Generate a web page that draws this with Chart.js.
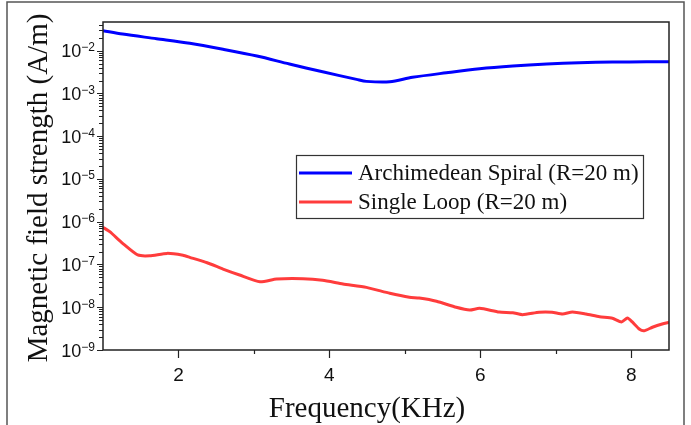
<!DOCTYPE html>
<html>
<head>
<meta charset="utf-8">
<script src="https://cdn.jsdelivr.net/npm/chart.js@4.4.1/dist/chart.umd.min.js"></script>
<style>
  html, body { margin: 0; padding: 0; background: #fff; }
</style>
</head>
<body>
<canvas id="chart" width="691" height="425"></canvas>
<script>
// data
const spiralLabel = "Archimedean Spiral (R=20 m)";
const spiralFreq = [1.00, 1.26, 1.71, 2.15, 2.59, 3.04, 3.47, 3.91, 4.36, 4.49, 4.80, 5.10, 5.55, 5.99, 6.43, 6.88, 7.31, 7.75, 8.20, 8.50];
const spiralH = [0.0293, 0.0245, 0.0191, 0.0149, 0.0108, 0.00752, 0.00489, 0.00322, 0.00214, 0.00192, 0.00188, 0.00239, 0.00305, 0.00379, 0.00439, 0.00489, 0.00524, 0.00543, 0.00552, 0.00552];

const loopLabel = "Single Loop (R=20 m)";
const loopFreq = [1.00, 1.09, 1.26, 1.46, 1.62, 1.85, 2.06, 2.15, 2.38, 2.59, 2.81, 3.08, 3.30, 3.65, 3.91, 4.18, 4.49, 4.80, 5.06, 5.19, 5.42, 5.68, 5.86, 5.99, 6.25, 6.43, 6.56, 6.78, 6.95, 7.09, 7.22, 7.40, 7.58, 7.75, 7.87, 7.95, 8.01, 8.11, 8.17, 8.28, 8.41, 8.50];
const loopH = [7.41e-7, 5.85e-7, 3.13e-7, 1.67e-7, 1.60e-7, 1.82e-7, 1.64e-7, 1.47e-7, 1.10e-7, 7.83e-8, 5.68e-8, 3.95e-8, 4.57e-8, 4.65e-8, 4.27e-8, 3.50e-8, 2.92e-8, 2.12e-8, 1.71e-8, 1.64e-8, 1.38e-8, 9.98e-9, 8.61e-9, 9.44e-9, 7.74e-9, 7.45e-9, 6.70e-9, 7.62e-9, 7.62e-9, 6.95e-9, 7.74e-9, 6.95e-9, 6.01e-9, 5.51e-9, 4.52e-9, 5.60e-9, 4.59e-9, 3.05e-9, 2.82e-9, 3.40e-9, 4.06e-9, 4.45e-9];

const xTicks = [2, 4, 6, 8];
const xMinorTicks = [3, 5, 7];
const yTicks = [1e-9, 1e-8, 1e-7, 1e-6, 1e-5, 1e-4, 1e-3, 1e-2];
const xTitle = "Frequency(KHz)";
const yTitle = "Magnetic field strength (A/m)";

function points(xs, ys) {
  return xs.map((x, i) => ({ x: x, y: ys[i] }));
}

const serif = "'Liberation Serif', 'Times New Roman', serif";
const sans = "'Liberation Sans', Arial, sans-serif";

// axis frame, tick marks, power-of-ten labels, titles, legend
const decor = {
  id: "decor",
  afterDraw(chart) {
    const c = chart.ctx;
    const a = chart.chartArea;
    const xs = chart.scales.x;
    const ys = chart.scales.y;
    c.save();

    // outer figure frame
    c.strokeStyle = "#555";
    c.lineWidth = 1.5;
    c.strokeRect(7, 2, 677, 440);

    // plot box
    c.strokeStyle = "#222";
    c.lineWidth = 1.5;
    c.strokeRect(a.left, a.top, a.right - a.left, a.bottom - a.top);

    // y ticks
    c.lineWidth = 1.2;
    c.beginPath();
    for (let d = -9; d <= -2; d++) {
      for (let k = 1; k <= 9; k++) {
        const v = k * Math.pow(10, d);
        if (v > ys.max) break;
        const py = Math.round(ys.getPixelForValue(v)) + 0.5;
        const len = k === 1 ? 6 : 4;
        c.moveTo(a.left - len, py);
        c.lineTo(a.left, py);
      }
    }
    // x ticks
    xTicks.forEach(v => {
      const px = Math.round(xs.getPixelForValue(v)) + 0.5;
      c.moveTo(px, a.bottom);
      c.lineTo(px, a.bottom + 8);
    });
    xMinorTicks.forEach(v => {
      const px = Math.round(xs.getPixelForValue(v)) + 0.5;
      c.moveTo(px, a.bottom);
      c.lineTo(px, a.bottom + 4);
    });
    c.stroke();

    // y tick labels: 10 with raised exponent
    c.fillStyle = "#111";
    c.textBaseline = "alphabetic";
    c.textAlign = "right";
    yTicks.forEach(v => {
      const py = ys.getPixelForValue(v);
      const exp = "\u2212" + String(-Math.round(Math.log10(v)));
      c.font = "12px " + sans;
      const ew = c.measureText(exp).width;
      c.fillText(exp, a.left - 8, py + 0.5);
      c.font = "18px " + sans;
      c.fillText("10", a.left - 8 - ew, py + 6.5);
    });

    // axis titles
    c.fillStyle = "#111";
    c.font = "29px " + serif;
    c.textAlign = "center";
    c.textBaseline = "alphabetic";
    c.fillText(xTitle, 367, 417);
    c.save();
    c.translate(47, (a.top + a.bottom) / 2 + 2);
    c.rotate(-Math.PI / 2);
    c.fillText(yTitle, 0, 0);
    c.restore();

    // legend
    const lx = 296, ly = 155, lw = 347, lh = 63;
    c.fillStyle = "#fff";
    c.fillRect(lx, ly, lw, lh);
    c.strokeStyle = "#333";
    c.lineWidth = 1.2;
    c.strokeRect(lx + 0.5, ly + 0.5, lw, lh);
    c.font = "23px " + serif;
    c.textAlign = "left";
    c.textBaseline = "middle";
    chart.data.datasets.forEach((ds, i) => {
      const yy = ly + 18 + i * 29;
      c.strokeStyle = ds.borderColor;
      c.lineWidth = 3;
      c.beginPath();
      c.moveTo(lx + 3, yy);
      c.lineTo(lx + 56, yy);
      c.stroke();
      c.fillStyle = "#111";
      c.fillText(ds.label, lx + 62, yy + 1);
    });

    c.restore();
  }
};

const ctx = document.getElementById("chart").getContext("2d");

const chart = new Chart(ctx, {
  type: "line",
  data: {
    datasets: [{
      label: spiralLabel,
      data: points(spiralFreq, spiralH),
      borderColor: "#0000ff",
      borderWidth: 3,
      pointRadius: 0,
      tension: 0.3
    }, {
      label: loopLabel,
      data: points(loopFreq, loopH),
      borderColor: "#ff3c3c",
      borderWidth: 3,
      pointRadius: 0,
      tension: 0.2
    }]
  },
  options: {
    responsive: false,
    animation: false,
    layout: { padding: { left: 0, top: 22, right: 22, bottom: 0 } },
    plugins: {
      legend: { display: false },
      tooltip: { enabled: false }
    },
    scales: {
      x: {
        type: "linear",
        min: 1,
        max: 8.5,
        afterBuildTicks: s => { s.ticks = xTicks.map(v => ({ value: v })); },
        afterFit: s => { s.height = 75; },
        grid: { display: false, drawTicks: false },
        border: { display: false },
        ticks: {
          padding: 14,
          color: "#111",
          font: { family: sans, size: 19 },
          maxRotation: 0
        }
      },
      y: {
        type: "logarithmic",
        min: 1e-9,
        max: 0.047,
        afterBuildTicks: s => { s.ticks = yTicks.map(v => ({ value: v })); },
        afterFit: s => { s.width = 103; },
        grid: { display: false, drawTicks: false },
        border: { display: false },
        ticks: { display: false }
      }
    }
  },
  plugins: [decor]
});
</script>
</body>
</html>
